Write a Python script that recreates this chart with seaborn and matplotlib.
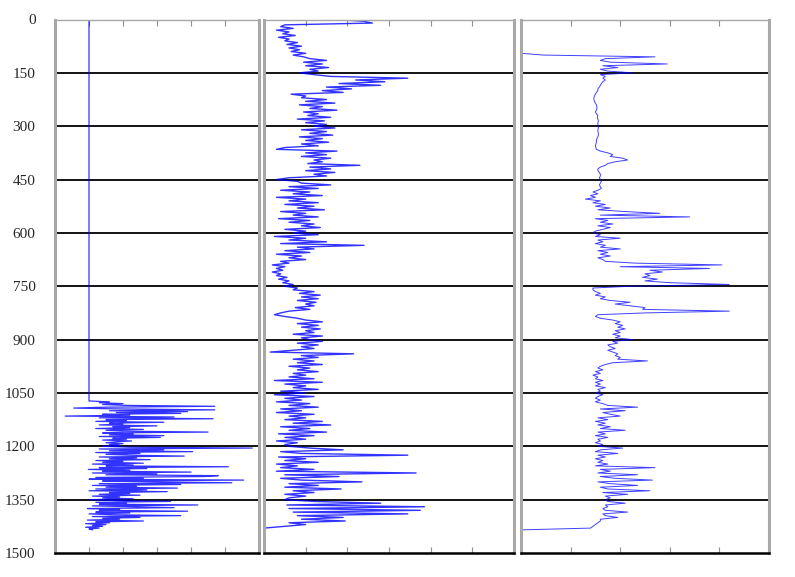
import numpy as np
import pandas as pd
import matplotlib
matplotlib.use("Agg")
import matplotlib.pyplot as plt
import seaborn as sns

# depth axis
DEPTH_TICKS = [0, 150, 300, 450, 600, 750, 900, 1050, 1200, 1350, 1500]

# track 1: flat line to ~1070 m, then logged section sampled every 2.5 m
T1_FLAT_DEPTH = [0, 1070]
T1_FLAT_VAL = [1.0, 1.0]
T1_START, T1_STEP = 1072.5, 2.5
T1_VAL = [
    1.0, 1.6, 1.3, 2.0, 1.4, 2.1, 4.7, 1.5, 0.55, 1.9,
    4.7, 1.6, 3.9, 1.8, 3.7, 1.4, 2.2, 0.3, 3.5, 1.3,
    4.65, 1.5, 2.1, 1.2, 3.2, 1.6, 2.0, 1.3, 3.0, 1.7,
    2.2, 1.2, 2.6, 1.5, 2.0, 4.5, 1.4, 2.3, 1.6, 3.2,
    1.3, 3.1, 1.7, 2.1, 1.4, 2.25, 1.8, 1.5, 2.0, 1.6,
    1.9, 1.4, 2.2, 5.8, 1.3, 3.2, 1.6, 4.05, 1.2, 2.5,
    1.5, 2.2, 3.8, 1.3, 2.4, 1.6, 2.8, 1.2, 2.0, 1.4,
    2.6, 1.1, 2.3, 1.5, 5.1, 1.3, 2.7, 0.98, 2.2, 1.4,
    4.0, 1.1, 3.0, 1.5, 4.8, 4.4, 1.2, 2.6, 1.0, 5.55,
    1.4, 2.9, 5.2, 1.3, 3.7, 1.1, 2.4, 1.5, 3.6, 1.2,
    2.7, 1.0, 3.3, 1.6, 2.2, 1.3, 2.5, 1.1, 1.9, 1.4,
    2.3, 1.0, 1.8, 3.4, 1.2, 2.1, 1.3, 4.2, 1.1, 2.4,
    3.5, 0.95, 1.9, 1.3, 3.9, 1.2, 2.2, 1.0, 1.7, 3.7,
    1.1, 2.5, 1.4, 1.9, 0.95, 2.6, 1.2, 1.6, 0.9, 1.5,
    1.1, 1.4, 0.9, 1.3, 1.0, 1.1,
]

# track 2: sampled every 5 m from 0 m
T2_STEP = 5
T2_VAL = [
    1.7, 2.4, 2.6, 0.5,
    0.4, 0.7, 0.3, 0.6, 0.45, 0.75, 0.35, 0.6, 0.5, 0.8,
    0.55, 0.9, 0.6, 0.85, 0.65, 1.0, 0.7, 0.95,
    1.1, 1.5, 0.95, 1.4, 1.0, 1.55, 1.1, 1.3,
    0.85, 1.2,
    1.6, 3.45, 2.2, 2.9, 1.8, 2.8,
    1.5, 2.1, 1.4, 1.9,
    0.65, 1.0,
    0.9, 1.5, 1.0, 1.7, 0.85, 1.4, 1.1, 1.75, 0.95, 1.3,
    1.05, 1.6, 0.8, 1.45, 1.0, 1.5,
    1.2, 1.7, 0.9, 1.5, 1.1, 1.65, 0.85, 1.4, 1.0, 1.55,
    0.9, 1.3, 0.5, 0.3, 1.75,
    1.0, 1.5, 0.9, 1.6, 1.2, 1.4, 1.05, 2.3,
    1.1, 1.6, 1.0, 1.7, 1.2, 1.5, 0.6,
    0.3, 0.8,
    0.9, 1.6, 0.6, 1.3, 0.4, 1.1, 0.7, 1.4, 0.3, 1.0,
    0.6, 1.3, 0.5, 1.2, 0.8, 1.45, 0.4, 1.0, 0.7, 1.3,
    0.35, 1.1, 0.6, 1.2, 0.9, 1.35, 0.5, 1.0,
    0.7, 1.3, 0.25, 1.0, 0.6, 1.5, 0.4, 2.4, 0.8, 1.2,
    0.5, 1.1, 0.3, 0.9, 0.6, 1.0,
    0.4, 0.6, 0.2, 0.5, 0.3, 0.45, 0.2, 0.4,
    0.3, 0.55, 0.35, 0.6, 0.45, 0.7, 0.5, 0.8,
    0.7, 1.2, 0.85, 1.35, 0.9, 1.3, 0.8, 1.25, 1.0, 1.2,
    0.75, 1.1, 0.6,
    0.4, 0.25, 0.5, 0.8,
    1.0, 1.4, 0.8, 1.3, 0.9, 1.35, 1.0, 1.2, 0.7, 1.4, 0.9,
    1.1, 1.4, 0.8, 1.3, 0.9, 1.2, 0.7, 0.15, 2.15, 0.9,
    1.3, 0.7, 1.2, 0.8, 1.4, 0.6, 1.1, 0.8, 1.3, 0.7,
    1.0, 0.6, 1.2, 0.25, 1.4, 0.5, 1.0, 0.7, 1.3,
    0.4, 1.0, 0.25, 1.2, 0.5, 0.9, 0.3, 1.1, 0.6, 1.3,
    0.4, 0.9, 0.3, 1.2, 0.6, 1.0, 0.5, 1.4, 0.7, 1.6,
    0.4, 1.1, 0.6, 1.5, 0.35, 1.2, 0.5, 1.0, 0.3, 0.8, 0.5,
    0.6, 1.1, 1.9, 0.4, 0.9, 3.45, 0.35, 1.0, 0.5, 1.3,
    0.3, 0.8, 0.4, 1.2, 0.3, 3.65, 0.5, 1.8, 0.4, 0.9,
    2.35, 0.6, 1.3, 0.5, 1.85, 0.7, 1.2, 0.5, 1.0, 0.6,
    0.5, 1.2, 2.8, 0.55, 3.85, 0.6, 3.75, 0.7, 3.45, 0.8,
    1.9, 0.9, 1.95, 0.6, 1.0, 0.5,
    0.0,
]

# track 3: sampled every 5 m from 0 m (zero until ~100 m)
T3_STEP = 5
T3_VAL = [0.0] * 20 + [
    0.45, 2.7, 1.7, 1.6, 1.8, 2.95, 1.65, 1.95, 1.6, 1.75,
    2.25, 1.6, 1.7, 1.65, 1.7, 1.65, 1.62, 1.6, 1.58, 1.55,
    1.55, 1.52, 1.5, 1.48, 1.47, 1.47, 1.48, 1.5, 1.52, 1.53,
    1.53, 1.52, 1.5, 1.52, 1.55, 1.54, 1.55, 1.56, 1.55, 1.55,
    1.56, 1.56, 1.55, 1.55, 1.56, 1.56, 1.55, 1.53, 1.52, 1.52,
    1.51, 1.5, 1.51, 1.52, 1.6, 1.75, 1.85, 1.8, 2.05, 2.15,
    1.9, 1.75, 1.7, 1.6, 1.55, 1.55, 1.58, 1.6, 1.6, 1.58,
    1.6, 1.62, 1.6, 1.58, 1.6, 1.62, 1.55, 1.45, 1.55, 1.4,
    1.5, 1.3, 1.6, 1.45, 1.7, 1.5, 1.8, 1.55, 2.1, 2.8,
    1.6, 3.4, 1.5, 1.75, 1.6, 1.85, 1.55, 1.8, 1.65, 1.5,
    1.45, 1.6, 1.5, 2.0, 1.55, 1.65, 1.5, 1.7, 1.6, 2.0,
    1.55, 1.75, 1.6, 1.8, 1.55, 1.65, 1.7, 2.3, 4.05, 2.0,
    3.8, 2.6, 2.85, 2.5, 2.6, 2.45, 2.75, 2.5, 3.0, 4.2,
    2.2, 1.45, 1.45, 1.5, 1.6, 1.5, 1.7, 1.6, 1.8, 2.2,
    1.9, 2.2, 2.5, 2.45, 4.2, 2.5, 1.55, 1.5, 1.6, 1.85,
    2.0, 1.9, 2.05, 1.95, 2.1, 1.9, 2.0, 1.85, 2.0, 1.9,
    2.25, 1.85, 1.95, 1.75, 1.8, 1.9, 1.75, 1.85, 1.95, 1.9,
    2.0, 1.95, 2.55, 1.85, 1.7, 1.6, 1.55, 1.65, 1.5, 1.6,
    1.45, 1.55, 1.5, 1.65, 1.5, 1.6, 1.5, 1.7, 1.55, 1.6,
    1.5, 1.65, 1.55, 1.5, 1.6, 1.5, 1.65, 1.75, 2.35, 1.6,
    2.1, 1.65, 1.8, 2.0, 1.55, 1.75, 1.5, 1.7, 1.55, 1.8,
    1.6, 2.1, 1.55, 1.7, 1.5, 1.75, 1.55, 1.6, 1.5, 1.65,
    1.55, 2.05, 1.6, 1.5, 1.95, 1.55, 1.7, 1.5, 1.65, 1.55,
    1.75, 1.5, 2.7, 1.6, 1.8, 1.55, 2.35, 1.6, 1.9, 2.65,
    1.55, 1.8, 2.35, 1.6, 1.75, 2.6, 1.65, 2.15, 1.7, 1.8,
    1.7, 1.75, 2.1, 1.7, 1.75, 1.65, 1.7, 2.15, 1.65, 1.7,
    1.95, 1.6, 1.6, 1.55, 1.5, 1.45, 1.4, 0.0,
]

# build the tables
t1 = pd.DataFrame({"depth": T1_START + np.arange(len(T1_VAL)) * T1_STEP, "val": T1_VAL})
t1 = pd.concat([pd.DataFrame({"depth": T1_FLAT_DEPTH, "val": T1_FLAT_VAL}), t1], ignore_index=True)
t2 = pd.DataFrame({"depth": np.arange(len(T2_VAL)) * T2_STEP, "val": T2_VAL})
t3 = pd.DataFrame({"depth": np.arange(len(T3_VAL)) * T3_STEP, "val": T3_VAL})

sns.set_style("white")
plt.rcParams["font.family"] = ["Liberation Serif", "DejaVu Serif"]

fig = plt.figure(figsize=(7.95, 5.77), dpi=100)
W, H = 795.0, 577.0
top, bot = 19.5, 553.0

# (left px, right px, xmax, ticks, data, line width, alpha)
panels = [
    (55, 259, 6, [1, 2, 3, 4, 5], t1, 0.9, 0.8),
    (264, 514, 6, [1, 2, 3, 4, 5], t2, 1.0, 0.8),
    (521, 769, 5, [1, 2, 3, 4], t3, 0.7, 0.75),
]

for i, (l, r, xmax, ticks, df, lw, al) in enumerate(panels):
    ax = fig.add_axes([l / W, 1 - bot / H, (r - l) / W, (bot - top) / H])
    for d in DEPTH_TICKS[1:-1]:
        ax.axhline(d, color="black", lw=1.3, zorder=1)
    sns.lineplot(data=df, x="val", y="depth", orient="y", sort=False,
                 estimator=None, color="#0000ff", lw=lw, alpha=al, ax=ax, zorder=2)
    ax.set_xlim(0, xmax)
    ax.set_ylim(1500, 0)
    ax.set_xlabel("")
    ax.set_ylabel("")
    ax.set_xticks(ticks)
    ax.tick_params(axis="x", direction="in", length=4, width=0.8, color="#909090",
                   top=True, bottom=True, labelbottom=False, labeltop=False)
    ax.set_yticks(DEPTH_TICKS)
    if i == 0:
        ax.tick_params(axis="y", length=0, pad=14, labelsize=11)
    else:
        ax.tick_params(axis="y", length=0, labelleft=False)
    for s in ["left", "right"]:
        ax.spines[s].set_color("#a8a8a8")
        ax.spines[s].set_linewidth(2.2)
    ax.spines["top"].set_color("#a8a8a8")
    ax.spines["top"].set_linewidth(1.0)
    ax.spines["bottom"].set_color("black")
    ax.spines["bottom"].set_linewidth(1.8)

fig.savefig("out.png", dpi=100)
